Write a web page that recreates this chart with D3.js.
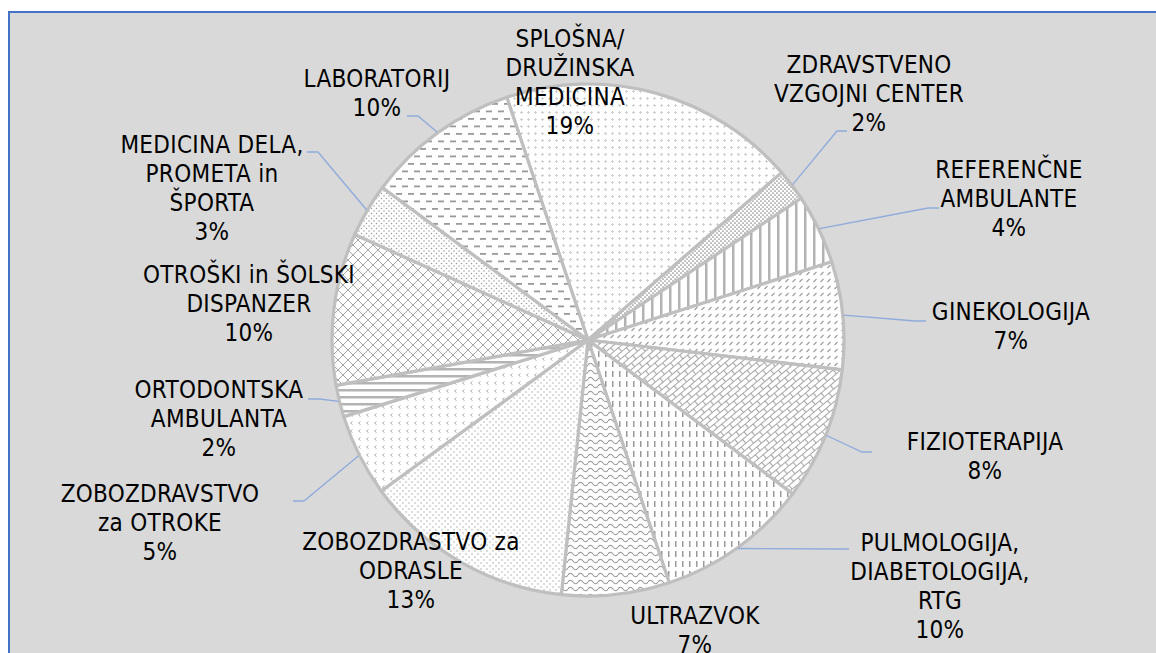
<!DOCTYPE html>
<html><head><meta charset="utf-8">
<script src="https://cdn.jsdelivr.net/npm/d3@7"></script>
<style>
html,body{margin:0;padding:0;background:#fff;}
svg{display:block;}
text{font-family:"DejaVu Sans Condensed","DejaVu Sans",sans-serif;font-stretch:condensed;font-size:24px;letter-spacing:0.3px;fill:#000;}
</style></head>
<body>
<svg id="chart" width="1156" height="653"></svg>
<script>
// ---- data ----
const categories = [
  "SPLOŠNA/\nDRUŽINSKA\nMEDICINA",
  "ZDRAVSTVENO\nVZGOJNI CENTER",
  "REFERENČNE\nAMBULANTE",
  "GINEKOLOGIJA",
  "FIZIOTERAPIJA",
  "PULMOLOGIJA,\nDIABETOLOGIJA,\nRTG",
  "ULTRAZVOK",
  "ZOBOZDRASTVO za\nODRASLE",
  "ZOBOZDRAVSTVO\nza OTROKE",
  "ORTODONTSKA\nAMBULANTA",
  "OTROŠKI in ŠOLSKI\nDISPANZER",
  "MEDICINA DELA,\nPROMETA in\nŠPORTA",
  "LABORATORIJ"
];
const values = [18.8, 2.0, 4.4, 6.8, 8.4, 9.6, 6.8, 13.3, 5.2, 2.0, 9.6, 3.4, 9.7];

// ---- layout / style (not data) ----
const patternIds = ["p-grid","p-dense","p-vert","p-diagdash","p-brick","p-vdash","p-wave","p-sparse","p-divot","p-horiz","p-diamond","p-dots","p-hdash"];
// label anchor: [centerX, firstBaseline, elbow or null, leader end or null]
const labelLayout = [
  [570, 47, null, null],
  [869, 73, [837,131], [847,131]],
  [1009, 178, [928,208], [939,208]],
  [1011, 320, [915,321], [926,321]],
  [985, 450, [862,452], [872,452]],
  [940, 551, [838,549], [849,549]],
  [695, 624, null, null],
  [411, 550, null, null],
  [160, 502, [304,501], [293,501]],
  [219, 398, [320,399], [308,399]],
  [249, 283, null, null],
  [212, 153, [318,152], [307,152]],
  [377, 87, [418,116], [407,116]]
];
const W = 1156, H = 653, cx = 588, cy = 340, R = 256;
const startDeg = -18.5;

const svg = d3.select("#chart");
svg.append("rect").attr("x",9).attr("y",12).attr("width",W).attr("height",H).attr("fill","#d9d9d9")
  .attr("stroke","#4472c4").attr("stroke-width",2);

const defs = svg.append("defs");
function pat(id, w, h, draw, tf){
  const p = defs.append("pattern").attr("id",id).attr("patternUnits","userSpaceOnUse")
    .attr("width",w).attr("height",h);
  if (tf) p.attr("patternTransform", tf);
  p.append("rect").attr("width",w).attr("height",h).attr("fill","#fff");
  draw(p);
}
const G = "#a6a6a6";
pat("p-grid",7,7,p=>{
  p.append("rect").attr("x",3).attr("y",2).attr("width",1).attr("height",3).attr("fill","#d0d0d0");
  p.append("rect").attr("x",2).attr("y",3).attr("width",3).attr("height",1).attr("fill","#d0d0d0");
});
pat("p-dense",4,4,p=>{
  p.append("circle").attr("cx",1).attr("cy",1).attr("r",0.85).attr("fill","#8c8c8c");
  p.append("circle").attr("cx",3).attr("cy",3).attr("r",0.85).attr("fill","#8c8c8c");
});
pat("p-vert",9,9,p=>{
  p.append("rect").attr("x",0).attr("y",0).attr("width",2.5).attr("height",9).attr("fill","#b3b3b3");
});
pat("p-diagdash",7,7,p=>{
  p.append("line").attr("x1",1.5).attr("y1",5).attr("x2",4.5).attr("y2",2).attr("stroke","#9a9a9a").attr("stroke-width",1.1);
});
pat("p-brick",12,10,p=>{
  p.append("path").attr("d","M0,0.5H12M0,5.5H12M0.5,0.5V5.5M6.5,5.5V10")
    .attr("stroke",G).attr("stroke-width",1.1).attr("fill","none");
},"rotate(-40)");
pat("p-vdash",7,10,p=>{
  p.append("rect").attr("x",3).attr("y",1).attr("width",1.5).attr("height",6).attr("fill","#999");
});
pat("p-wave",10,7,p=>{
  p.append("path").attr("d","M0,4 Q2.5,0.5 5,4 T10,4").attr("stroke","#999").attr("stroke-width",1.1).attr("fill","none");
});
pat("p-sparse",6,6,p=>{
  p.append("circle").attr("cx",1).attr("cy",1).attr("r",0.7).attr("fill","#a0a0a0");
  p.append("circle").attr("cx",4).attr("cy",4).attr("r",0.7).attr("fill","#a0a0a0");
});
pat("p-divot",8,8,p=>{
  p.append("path").attr("d","M4.5,1.5 L2.5,3 L4.5,4.5").attr("stroke","#b0b0b0").attr("stroke-width",1).attr("fill","none");
});
pat("p-horiz",9,7,p=>{
  p.append("rect").attr("x",0).attr("y",0).attr("width",9).attr("height",2.5).attr("fill","#b3b3b3");
});
pat("p-diamond",10,10,p=>{
  p.append("path").attr("d","M0,0L10,10M10,0L0,10").attr("stroke",G).attr("stroke-width",1).attr("fill","none");
});
pat("p-dots",5,5,p=>{
  p.append("circle").attr("cx",1).attr("cy",1).attr("r",0.75).attr("fill","#999");
  p.append("circle").attr("cx",3.5).attr("cy",3.5).attr("r",0.75).attr("fill","#999");
});
pat("p-hdash",12,15,p=>{
  p.append("rect").attr("x",0).attr("y",3).attr("width",6).attr("height",1.8).attr("fill","#999");
  p.append("rect").attr("x",6).attr("y",10.5).attr("width",6).attr("height",1.8).attr("fill","#999");
});

const total = d3.sum(values);
const data = categories.map((c,i)=>({cat:c, value:values[i], i}));
const pie = d3.pie().sort(null).value(d=>d.value)
  .startAngle(startDeg*Math.PI/180).endAngle(startDeg*Math.PI/180 + 2*Math.PI);
const arcs = pie(data);
const arc = d3.arc().innerRadius(0).outerRadius(R);
const edge = d3.arc().innerRadius(R+1).outerRadius(R+1);

const g = svg.append("g").attr("transform",`translate(${cx},${cy})`);
g.selectAll("path.slice").data(arcs).enter().append("path")
  .attr("class","slice")
  .attr("d",arc)
  .attr("fill",d=>`url(#${patternIds[d.data.i]})`)
  .attr("stroke","#bfbfbf").attr("stroke-width",3.2).attr("stroke-linejoin","round");

const fmt = d3.format(".0%");
// leaders
arcs.forEach(d=>{
  const L = labelLayout[d.data.i];
  if (!L[2]) return;
  const s = edge.centroid(d);
  const pts = [[s[0]+cx, s[1]+cy], L[2], L[3]];
  svg.append("path").attr("d", d3.line()(pts)).attr("fill","none")
    .attr("stroke","#8faadc").attr("stroke-width",1.3);
});
// labels
arcs.forEach(d=>{
  const L = labelLayout[d.data.i];
  const lines = d.data.cat.split("\n").concat([fmt(d.data.value/total)]);
  const t = svg.append("text").attr("text-anchor","middle").attr("x",L[0]).attr("y",L[1]);
  lines.forEach((ln,k)=>{
    t.append("tspan").attr("x",L[0]).attr("y",L[1]+k*29).text(ln);
  });
});
</script>
</body></html>
